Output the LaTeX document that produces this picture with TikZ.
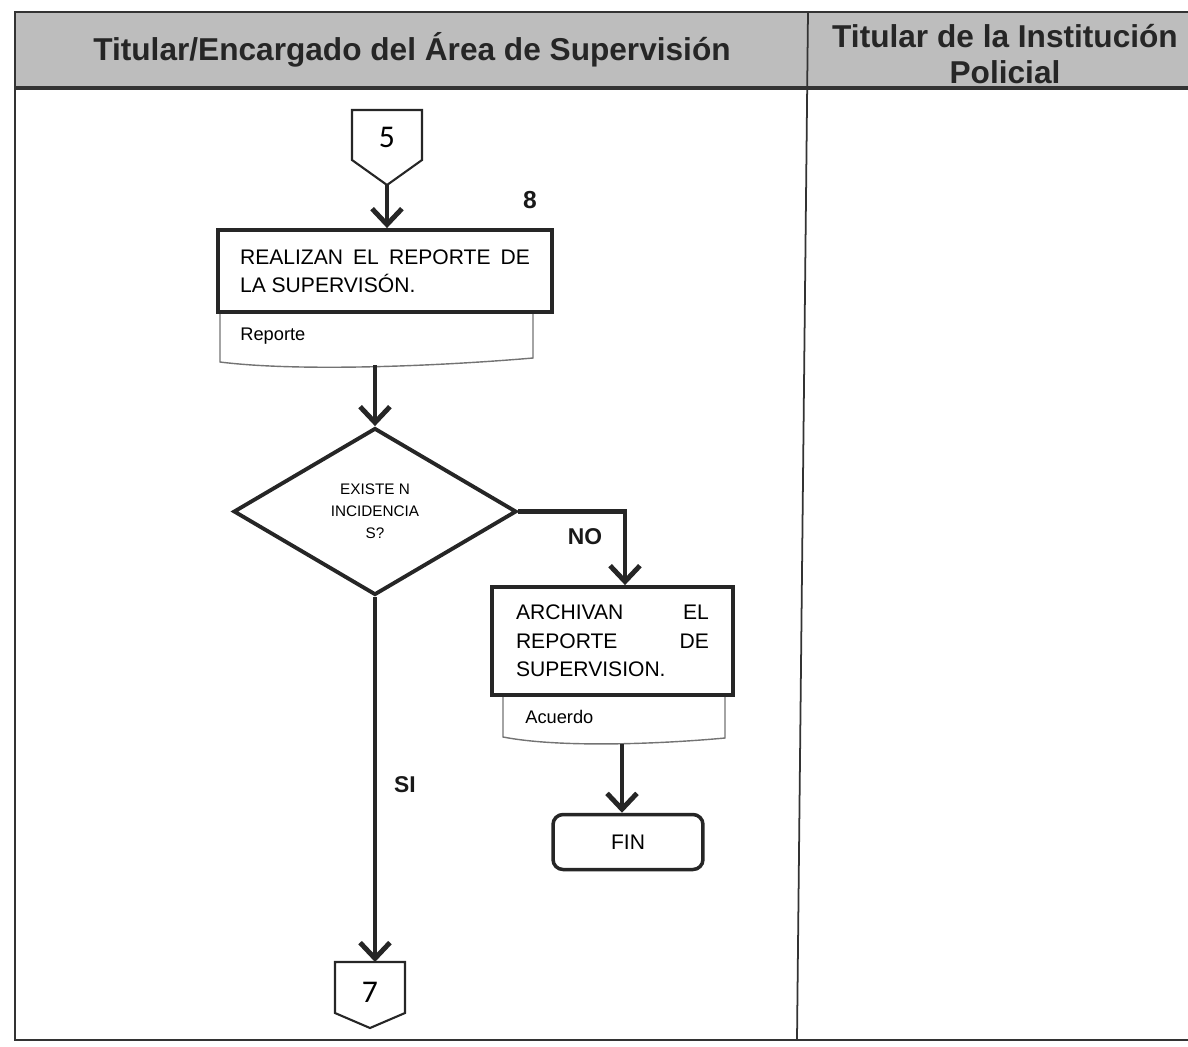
\documentclass[tikz,border=0pt]{standalone}
\usepackage{fontspec}
\setmainfont{Liberation Sans}
\newfontfamily\numfont{Carlito}
\usetikzlibrary{shapes.geometric,arrows.meta,calc}

\begin{document}
\begin{tikzpicture}[x=0.02cm,y=-0.02cm,
        flecha/.style={draw=black!85,line width=2.8pt,-{Straight Barb[length=9pt,width=17pt,line width=2.8pt]}},
        hoja/.style={draw=black!55,line width=0.8pt},
        conector/.style={draw=black!85,line width=1.2pt},
        etiqueta/.style={font=\fontsize{13}{15}\selectfont\bfseries,text=black!90}]
    \useasboundingbox (0,0) rectangle (1188,1046);
    % encabezado y carriles
    \fill[black!26] (15,12) rectangle (1188,88);
    \draw[black!80,line width=1pt] (1188,12) -- (15,12) -- (15,1040) -- (1188,1040);
    \draw[black!80,line width=1.8pt] (15,88) -- (1188,88);
    \draw[black!80,line width=1pt] (808,12) -- (797,1040);
    \begin{scope}[every node/.style={text=black!85,font=\fontsize{18}{20}\selectfont\bfseries,align=center}]
        \node (carril1) at (412,50) {Titular/Encargado del Área de Supervisión};
        \node (carril2) at (1005,54) {Titular de la Institución\\Policial};
    \end{scope}
    % conectores de pagina
    \draw[conector] (352,110) -- (422,110) -- (422,160) -- (387,185) -- (352,160) -- cycle;
    \node (c5) at (387,137) {\numfont\fontsize{18}{18}\selectfont 5};
    \coordinate (c5b) at (387,185);
    \draw[conector] (335,962) -- (405,962) -- (405,1013) -- (370,1028) -- (335,1013) -- cycle;
    \node (c7) at (370,992) {\numfont\fontsize{18}{18}\selectfont 7};
    \coordinate (c7t) at (370,962);
    % documentos
    \draw[hoja] (220,312) -- (220,362) .. controls (300,372) and (440,366) .. (533,358) -- (533,312);
    \node (doc1) at (240,336) [anchor=west,inner sep=0pt,font=\fontsize{10.4}{12}\selectfont] {Reporte};
    \coordinate (doc1b) at (375,365);
    \draw[hoja] (503,695) -- (503,737) .. controls (560,748) and (660,744) .. (725,738) -- (725,695);
    \node (doc2) at (525,717) [anchor=west,inner sep=0pt,font=\fontsize{10.4}{12}\selectfont] {Acuerdo};
    \coordinate (doc2b) at (622,744);
    % actividades
    \begin{scope}[every node/.style={draw=black!85,line width=2.2pt,inner sep=0pt,font=\fontsize{12}{16.2}\selectfont}]
        \node (paso8) at (385,271) [minimum width=6.68cm,minimum height=1.64cm,text width=5.8cm,align=justify] {REALIZAN EL REPORTE DE LA SUPERVISÓN.};
        \node (decision) at (375,511.5) [diamond,minimum width=5.66cm,minimum height=3.34cm,align=center,font=\fontsize{8.7}{12.5}\selectfont] {EXISTE N\\INCIDENCIA\\S?};
        \node (archivo) at (612.5,641) [minimum width=4.82cm,minimum height=2.16cm,text width=3.86cm,align=left] {ARCHIVAN\hfill EL\\REPORTE\hfill DE\\SUPERVISION.};
        \node (fin) at (628,842) [rounded corners=0.2cm,minimum width=3cm,minimum height=1.1cm,line width=2pt] {FIN};
    \end{scope}
    \node[etiqueta,font=\fontsize{14}{16}\selectfont\bfseries] (num8) at (530,200) {8};
    \node[etiqueta] (no) at (585,537) {NO};
    \node[etiqueta] (si) at (405,785) {SI};
    % flujo
    \draw[flecha] (c5b) -- (c5b |- paso8.north);
    \draw[flecha] (doc1b) -- (doc1b |- decision.north);
    \draw[flecha] (decision.east) -| ($(archivo.north)+(12.5,0)$);
    \draw[flecha] (doc2b) -- (doc2b |- fin.north);
    \draw[flecha] (decision.south) -- (decision.south |- c7t);
\end{tikzpicture}
\end{document}
